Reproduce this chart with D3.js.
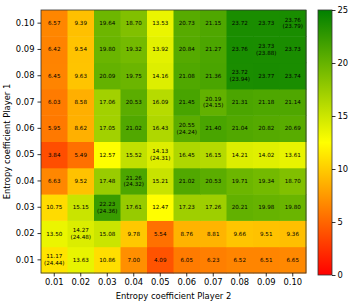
<!DOCTYPE html>
<html>
<head>
<meta charset="utf-8">
<script src="https://cdn.jsdelivr.net/npm/d3@7"></script>
<style>
  body { margin: 0; background: #fff; }
  svg { display: block; font-family: "DejaVu Sans", sans-serif; }
</style>
</head>
<body>
<svg id="chart"></svg>
<script>
// rows are Player 1 coefficients (0.01 at bottom), cols are Player 2 coefficients
const player2 = ["0.01", "0.02", "0.03", "0.04", "0.05", "0.06", "0.07", "0.08", "0.09", "0.10"];
const player1 = ["0.01", "0.02", "0.03", "0.04", "0.05", "0.06", "0.07", "0.08", "0.09", "0.10"];

// values[i] is row player1[i]
const values = [
  [11.17, 13.63, 10.86, 7.00, 4.09, 6.05, 6.23, 6.52, 6.51, 6.65],
  [13.50, 14.27, 15.08, 9.78, 5.54, 8.76, 8.81, 9.66, 9.51, 9.36],
  [10.75, 15.15, 22.23, 17.61, 12.47, 17.23, 17.26, 20.21, 19.98, 19.80],
  [6.63, 9.52, 17.48, 21.26, 15.21, 21.02, 20.53, 19.71, 19.34, 18.70],
  [3.84, 5.49, 12.57, 15.52, 14.13, 16.45, 16.15, 14.21, 14.02, 13.61],
  [5.95, 8.62, 17.05, 21.02, 16.43, 20.55, 21.40, 21.04, 20.82, 20.69],
  [6.03, 8.58, 17.06, 20.53, 16.09, 21.45, 20.19, 21.31, 21.18, 21.14],
  [6.45, 9.63, 20.09, 19.75, 14.16, 21.08, 21.36, 23.72, 23.77, 23.74],
  [6.42, 9.54, 19.80, 19.32, 13.92, 20.84, 21.27, 23.76, 23.73, 23.73],
  [6.57, 9.39, 19.64, 18.70, 13.53, 20.73, 21.15, 23.72, 23.73, 23.76]
];

// best value per row, shown in brackets under the cell value
const bestValues = [
  {row: "0.01", col: "0.01", value: 24.44},
  {row: "0.02", col: "0.02", value: 24.48},
  {row: "0.03", col: "0.03", value: 24.36},
  {row: "0.04", col: "0.04", value: 24.32},
  {row: "0.05", col: "0.05", value: 24.31},
  {row: "0.06", col: "0.06", value: 24.24},
  {row: "0.07", col: "0.07", value: 24.15},
  {row: "0.08", col: "0.08", value: 23.94},
  {row: "0.09", col: "0.09", value: 23.88},
  {row: "0.10", col: "0.10", value: 23.79}
];

const colorTicks = [0, 5, 10, 15, 20, 25];

const W = 354, H = 306;
const margin = { top: 10, left: 41, right: 48, bottom: 33 };
const plotW = 306 - margin.left;
const plotH = 273 - margin.top;

const svg = d3.select("#chart").attr("width", W).attr("height", H);
const g = svg.append("g").attr("transform", `translate(${margin.left},${margin.top})`);

const x = d3.scaleBand().domain(player2).range([0, plotW]);
const y = d3.scaleBand().domain(player1).range([plotH, 0]);

const color = d3.scaleLinear()
  .domain([0, 12.5, 25])
  .range(["#ff0000", "#ffff00", "#008000"])
  .clamp(true);

const cells = [];
values.forEach((row, i) => row.forEach((v, j) => {
  const best = bestValues.find(b => b.row === player1[i] && b.col === player2[j]);
  cells.push({ r: player1[i], c: player2[j], v: v, best: best ? best.value : null });
}));

g.selectAll("rect.cell")
  .data(cells)
  .enter().append("rect")
  .attr("class", "cell")
  .attr("x", d => x(d.c))
  .attr("y", d => y(d.r))
  .attr("width", x.bandwidth() + 0.5)
  .attr("height", y.bandwidth() + 0.5)
  .attr("fill", d => color(d.v));

const labels = g.selectAll("text.val")
  .data(cells)
  .enter().append("text")
  .attr("class", "val")
  .attr("x", d => x(d.c) + x.bandwidth() / 2)
  .attr("y", d => y(d.r) + y.bandwidth() / 2)
  .attr("text-anchor", "middle")
  .attr("font-size", "5.6px")
  .attr("fill", "#000");

labels.each(function(d) {
  const t = d3.select(this);
  if (d.best === null) {
    t.append("tspan").attr("dy", "0.35em").text(d.v.toFixed(2));
  } else {
    t.append("tspan").attr("x", x(d.c) + x.bandwidth() / 2).attr("dy", "-0.25em").text(d.v.toFixed(2));
    t.append("tspan").attr("x", x(d.c) + x.bandwidth() / 2).attr("dy", "1.2em").text(`(${d.best.toFixed(2)})`);
  }
});

// frame
g.append("rect")
  .attr("width", plotW).attr("height", plotH)
  .attr("fill", "none").attr("stroke", "#333").attr("stroke-width", 0.8);

// axes
const xAxis = g.append("g")
  .attr("transform", `translate(0,${plotH})`)
  .call(d3.axisBottom(x).tickSize(3.5).tickPadding(3));
const yAxis = g.append("g")
  .call(d3.axisLeft(y).tickSize(3.5).tickPadding(3));
[xAxis, yAxis].forEach(a => {
  a.select(".domain").remove();
  a.selectAll("text").attr("font-size", "8.4px").attr("fill", "#000").attr("font-family", "DejaVu Sans");
  a.selectAll("line").attr("stroke", "#000").attr("stroke-width", 0.8);
});

svg.append("text")
  .attr("x", margin.left + plotW / 2)
  .attr("y", 299)
  .attr("text-anchor", "middle")
  .attr("font-size", "8.4px")
  .text("Entropy coefficient Player 2");

svg.append("text")
  .attr("transform", `translate(10,${margin.top + plotH / 2}) rotate(-90)`)
  .attr("text-anchor", "middle")
  .attr("font-size", "8.4px")
  .text("Entropy coefficient Player 1");

// colorbar
const cbX = 318, cbW = 14, cbTop = 10, cbBottom = 275;
const cbScale = d3.scaleLinear().domain([0, 25]).range([cbBottom, cbTop]);

const grad = svg.append("defs").append("linearGradient")
  .attr("id", "cbgrad").attr("x1", 0).attr("y1", 1).attr("x2", 0).attr("y2", 0);
d3.range(0, 26, 2.5).forEach(v => {
  grad.append("stop").attr("offset", v / 25).attr("stop-color", color(v));
});

svg.append("rect")
  .attr("x", cbX).attr("y", cbTop)
  .attr("width", cbW).attr("height", cbBottom - cbTop)
  .attr("fill", "url(#cbgrad)")
  .attr("stroke", "#333").attr("stroke-width", 0.8);

const cbAxis = svg.append("g")
  .attr("transform", `translate(${cbX + cbW},0)`)
  .call(d3.axisRight(cbScale).tickValues(colorTicks).tickSize(3.5).tickPadding(2).tickFormat(d3.format("d")));
cbAxis.select(".domain").remove();
cbAxis.selectAll("text").attr("font-size", "8.4px").attr("fill", "#000").attr("font-family", "DejaVu Sans");
cbAxis.selectAll("line").attr("stroke", "#000").attr("stroke-width", 0.8);
</script>
</body>
</html>
